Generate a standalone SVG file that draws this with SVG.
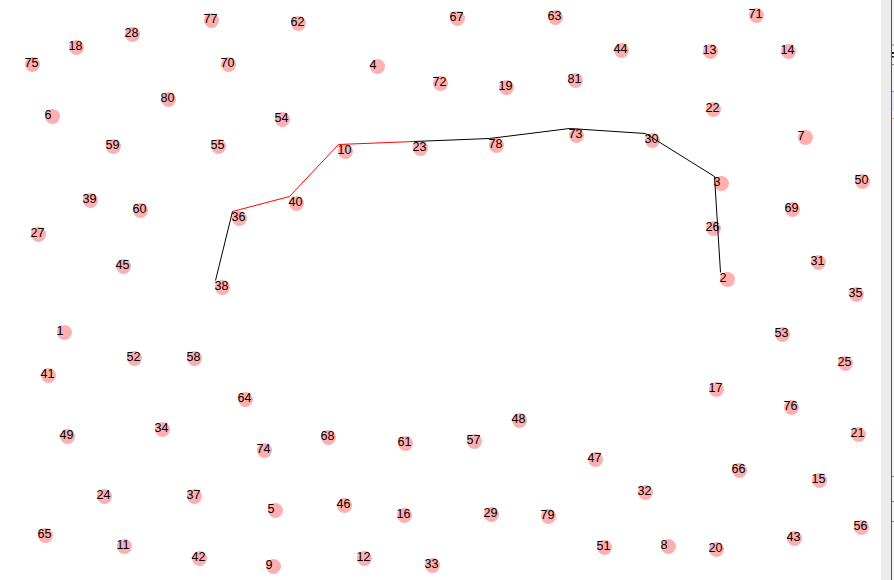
<svg xmlns="http://www.w3.org/2000/svg" width="894" height="580" viewBox="0 0 894 580">
<style>
.n circle{fill:#ffafaf}
.n text{font-family:"Liberation Sans",Arial,sans-serif;font-size:12.5px;fill:#000}
.blk{fill:none;stroke:#000;stroke-width:1}
.red{fill:none;stroke:#ff0000;stroke-width:1}
</style>
<rect x="0" y="0" width="894" height="580" fill="#ffffff"/>
<g id="frame">
<rect x="881" y="0" width="13" height="580" fill="#ececec"/>
<rect x="891" y="0" width="1.3" height="580" fill="#555555"/>
<rect x="892" y="0" width="2" height="580" fill="#f3f3f3"/>
<rect x="892" y="44.5" width="2" height="1" fill="#8a8a8a"/>
<rect x="892" y="52" width="2" height="2" fill="#222222"/>
<rect x="892" y="56" width="2" height="1.5" fill="#222222"/>
<rect x="892" y="64" width="2" height="1" fill="#8a8a8a"/>
<rect x="892" y="91" width="2" height="19" fill="#e4ecf7"/>
<rect x="892" y="91" width="2" height="1" fill="#9aa3b0"/>
<rect x="893" y="118" width="1" height="1" fill="#d08040"/>
<rect x="892" y="476" width="2" height="1" fill="#8a8a8a"/>
<rect x="892" y="501" width="2" height="1" fill="#8a8a8a"/>
<rect x="892" y="521" width="2" height="1" fill="#8a8a8a"/>
</g>
<g id="nodes">
<g id="n1" class="n"><circle cx="64.5" cy="332.5" r="7.5"/><text x="56.5" y="335">1</text></g>
<g id="n2" class="n"><circle cx="727.5" cy="279.5" r="7.5"/><text x="719.5" y="282">2</text></g>
<g id="n3" class="n"><circle cx="721.5" cy="183.5" r="7.5"/><text x="713.5" y="186">3</text></g>
<g id="n4" class="n"><circle cx="377.5" cy="66.5" r="7.5"/><text x="369.5" y="69">4</text></g>
<g id="n5" class="n"><circle cx="275.5" cy="510.5" r="7.5"/><text x="267.5" y="513">5</text></g>
<g id="n6" class="n"><circle cx="52.5" cy="116.5" r="7.5"/><text x="44.5" y="119">6</text></g>
<g id="n7" class="n"><circle cx="805.5" cy="137.5" r="7.5"/><text x="797.5" y="140">7</text></g>
<g id="n8" class="n"><circle cx="668.5" cy="546.5" r="7.5"/><text x="660.5" y="549">8</text></g>
<g id="n9" class="n"><circle cx="273.5" cy="566.5" r="7.5"/><text x="265.5" y="569">9</text></g>
<g id="n10" class="n"><circle cx="345.5" cy="151.5" r="7.5"/><text x="337.5" y="154">10</text></g>
<g id="n11" class="n"><circle cx="124.5" cy="546.5" r="7.5"/><text x="116.5" y="549">11</text></g>
<g id="n12" class="n"><circle cx="364.5" cy="558.5" r="7.5"/><text x="356.5" y="561">12</text></g>
<g id="n13" class="n"><circle cx="710.5" cy="51.5" r="7.5"/><text x="702.5" y="54">13</text></g>
<g id="n14" class="n"><circle cx="788.5" cy="51.5" r="7.5"/><text x="780.5" y="54">14</text></g>
<g id="n15" class="n"><circle cx="819.5" cy="480.5" r="7.5"/><text x="811.5" y="483">15</text></g>
<g id="n16" class="n"><circle cx="404.5" cy="515.5" r="7.5"/><text x="396.5" y="518">16</text></g>
<g id="n17" class="n"><circle cx="716.5" cy="389.5" r="7.5"/><text x="708.5" y="392">17</text></g>
<g id="n18" class="n"><circle cx="76.5" cy="47.5" r="7.5"/><text x="68.5" y="50">18</text></g>
<g id="n19" class="n"><circle cx="506.5" cy="87.5" r="7.5"/><text x="498.5" y="90">19</text></g>
<g id="n20" class="n"><circle cx="716.5" cy="549.5" r="7.5"/><text x="708.5" y="552">20</text></g>
<g id="n21" class="n"><circle cx="858.5" cy="434.5" r="7.5"/><text x="850.5" y="437">21</text></g>
<g id="n22" class="n"><circle cx="713.5" cy="109.5" r="7.5"/><text x="705.5" y="112">22</text></g>
<g id="n23" class="n"><circle cx="420.5" cy="148.5" r="7.5"/><text x="412.5" y="151">23</text></g>
<g id="n24" class="n"><circle cx="104.5" cy="496.5" r="7.5"/><text x="96.5" y="499">24</text></g>
<g id="n25" class="n"><circle cx="845.5" cy="363.5" r="7.5"/><text x="837.5" y="366">25</text></g>
<g id="n26" class="n"><circle cx="713.5" cy="228.5" r="7.5"/><text x="705.5" y="231">26</text></g>
<g id="n27" class="n"><circle cx="38.5" cy="234.5" r="7.5"/><text x="30.5" y="237">27</text></g>
<g id="n28" class="n"><circle cx="132.5" cy="34.5" r="7.5"/><text x="124.5" y="37">28</text></g>
<g id="n29" class="n"><circle cx="491.5" cy="514.5" r="7.5"/><text x="483.5" y="517">29</text></g>
<g id="n30" class="n"><circle cx="652.5" cy="140.5" r="7.5"/><text x="644.5" y="143">30</text></g>
<g id="n31" class="n"><circle cx="818.5" cy="262.5" r="7.5"/><text x="810.5" y="265">31</text></g>
<g id="n32" class="n"><circle cx="645.5" cy="492.5" r="7.5"/><text x="637.5" y="495">32</text></g>
<g id="n33" class="n"><circle cx="432.5" cy="565.5" r="7.5"/><text x="424.5" y="568">33</text></g>
<g id="n34" class="n"><circle cx="162.5" cy="429.5" r="7.5"/><text x="154.5" y="432">34</text></g>
<g id="n35" class="n"><circle cx="856.5" cy="294.5" r="7.5"/><text x="848.5" y="297">35</text></g>
<g id="n36" class="n"><circle cx="239.5" cy="218.5" r="7.5"/><text x="231.5" y="221">36</text></g>
<g id="n37" class="n"><circle cx="194.5" cy="496.5" r="7.5"/><text x="186.5" y="499">37</text></g>
<g id="n38" class="n"><circle cx="222.5" cy="287.5" r="7.5"/><text x="214.5" y="290">38</text></g>
<g id="n39" class="n"><circle cx="90.5" cy="200.5" r="7.5"/><text x="82.5" y="203">39</text></g>
<g id="n40" class="n"><circle cx="296.5" cy="203.5" r="7.5"/><text x="288.5" y="206">40</text></g>
<g id="n41" class="n"><circle cx="48.5" cy="375.5" r="7.5"/><text x="40.5" y="378">41</text></g>
<g id="n42" class="n"><circle cx="199.5" cy="558.5" r="7.5"/><text x="191.5" y="561">42</text></g>
<g id="n43" class="n"><circle cx="794.5" cy="538.5" r="7.5"/><text x="786.5" y="541">43</text></g>
<g id="n44" class="n"><circle cx="621.5" cy="50.5" r="7.5"/><text x="613.5" y="53">44</text></g>
<g id="n45" class="n"><circle cx="123.5" cy="266.5" r="7.5"/><text x="115.5" y="269">45</text></g>
<g id="n46" class="n"><circle cx="344.5" cy="505.5" r="7.5"/><text x="336.5" y="508">46</text></g>
<g id="n47" class="n"><circle cx="595.5" cy="459.5" r="7.5"/><text x="587.5" y="462">47</text></g>
<g id="n48" class="n"><circle cx="519.5" cy="420.5" r="7.5"/><text x="511.5" y="423">48</text></g>
<g id="n49" class="n"><circle cx="67.5" cy="436.5" r="7.5"/><text x="59.5" y="439">49</text></g>
<g id="n50" class="n"><circle cx="862.5" cy="181.5" r="7.5"/><text x="854.5" y="184">50</text></g>
<g id="n51" class="n"><circle cx="604.5" cy="547.5" r="7.5"/><text x="596.5" y="550">51</text></g>
<g id="n52" class="n"><circle cx="134.5" cy="358.5" r="7.5"/><text x="126.5" y="361">52</text></g>
<g id="n53" class="n"><circle cx="782.5" cy="334.5" r="7.5"/><text x="774.5" y="337">53</text></g>
<g id="n54" class="n"><circle cx="282.5" cy="119.5" r="7.5"/><text x="274.5" y="122">54</text></g>
<g id="n55" class="n"><circle cx="218.5" cy="146.5" r="7.5"/><text x="210.5" y="149">55</text></g>
<g id="n56" class="n"><circle cx="861.5" cy="527.5" r="7.5"/><text x="853.5" y="530">56</text></g>
<g id="n57" class="n"><circle cx="474.5" cy="441.5" r="7.5"/><text x="466.5" y="444">57</text></g>
<g id="n58" class="n"><circle cx="194.5" cy="358.5" r="7.5"/><text x="186.5" y="361">58</text></g>
<g id="n59" class="n"><circle cx="113.5" cy="146.5" r="7.5"/><text x="105.5" y="149">59</text></g>
<g id="n60" class="n"><circle cx="140.5" cy="210.5" r="7.5"/><text x="132.5" y="213">60</text></g>
<g id="n61" class="n"><circle cx="405.5" cy="443.5" r="7.5"/><text x="397.5" y="446">61</text></g>
<g id="n62" class="n"><circle cx="298.5" cy="23.5" r="7.5"/><text x="290.5" y="26">62</text></g>
<g id="n63" class="n"><circle cx="555.5" cy="17.5" r="7.5"/><text x="547.5" y="20">63</text></g>
<g id="n64" class="n"><circle cx="245.5" cy="399.5" r="7.5"/><text x="237.5" y="402">64</text></g>
<g id="n65" class="n"><circle cx="45.5" cy="535.5" r="7.5"/><text x="37.5" y="538">65</text></g>
<g id="n66" class="n"><circle cx="739.5" cy="470.5" r="7.5"/><text x="731.5" y="473">66</text></g>
<g id="n67" class="n"><circle cx="457.5" cy="18.5" r="7.5"/><text x="449.5" y="21">67</text></g>
<g id="n68" class="n"><circle cx="328.5" cy="437.5" r="7.5"/><text x="320.5" y="440">68</text></g>
<g id="n69" class="n"><circle cx="792.5" cy="209.5" r="7.5"/><text x="784.5" y="212">69</text></g>
<g id="n70" class="n"><circle cx="228.5" cy="64.5" r="7.5"/><text x="220.5" y="67">70</text></g>
<g id="n71" class="n"><circle cx="756.5" cy="15.5" r="7.5"/><text x="748.5" y="18">71</text></g>
<g id="n72" class="n"><circle cx="440.5" cy="83.5" r="7.5"/><text x="432.5" y="86">72</text></g>
<g id="n73" class="n"><circle cx="576.5" cy="135.5" r="7.5"/><text x="568.5" y="138">73</text></g>
<g id="n74" class="n"><circle cx="264.5" cy="450.5" r="7.5"/><text x="256.5" y="453">74</text></g>
<g id="n75" class="n"><circle cx="32.5" cy="64.5" r="7.5"/><text x="24.5" y="67">75</text></g>
<g id="n76" class="n"><circle cx="791.5" cy="407.5" r="7.5"/><text x="783.5" y="410">76</text></g>
<g id="n77" class="n"><circle cx="211.5" cy="20.5" r="7.5"/><text x="203.5" y="23">77</text></g>
<g id="n78" class="n"><circle cx="496.5" cy="145.5" r="7.5"/><text x="488.5" y="148">78</text></g>
<g id="n79" class="n"><circle cx="548.5" cy="516.5" r="7.5"/><text x="540.5" y="519">79</text></g>
<g id="n80" class="n"><circle cx="168.5" cy="99.5" r="7.5"/><text x="160.5" y="102">80</text></g>
<g id="n81" class="n"><circle cx="575.5" cy="80.5" r="7.5"/><text x="567.5" y="83">81</text></g>
</g>
<g id="connectors">
<polyline class="blk" points="215.5,280.5 232.5,211.5"/>
<polyline class="red" points="232.5,211.5 289.5,196.5 338.5,144.5 413.5,141.5"/>
<polyline class="blk" points="413.5,141.5 489.5,138.5 569.5,128.5 645.5,133.5 714.5,176.5 720.5,272.5"/>
</g>
</svg>
